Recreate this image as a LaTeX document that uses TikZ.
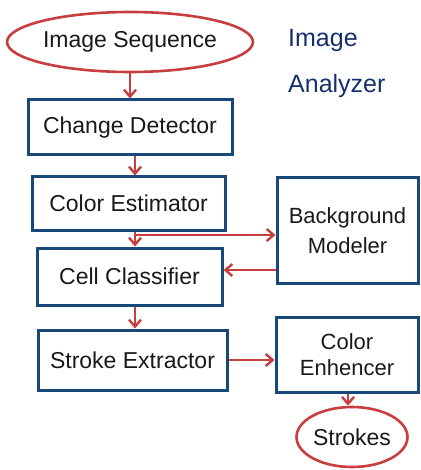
\documentclass[tikz,border=0pt]{standalone}
\usepackage{fontspec}
\setmainfont{Liberation Sans}
\usetikzlibrary{arrows.meta,shapes.geometric}
\definecolor{penred}{RGB}{200,62,62}
\definecolor{penblue}{RGB}{22,72,122}
\definecolor{inkblue}{RGB}{20,48,110}
\definecolor{inkblack}{RGB}{25,25,25}
\tikzset{
  blk/.style={draw=penblue, line width=3pt, rectangle, align=center, text=inkblack,
    font=\fontsize{23}{27}\selectfont, inner sep=1pt},
  rblk/.style={blk, font=\fontsize{22}{26}\selectfont},
  oval/.style={draw=penred, line width=2.6pt, ellipse, text=inkblack,
    font=\fontsize{23}{27}\selectfont, inner sep=0pt},
  arr/.style={draw=penred, line width=2.4pt, -{Straight Barb[length=7pt,width=12pt]}},
  ttl/.style={text=inkblue, font=\fontsize{25}{29}\selectfont, anchor=west, inner sep=0pt}
}
\begin{document}
\begin{tikzpicture}[x=1pt,y=-1pt]
\useasboundingbox (0,0) rectangle (420,470);
\node[oval, minimum width=230pt, minimum height=60pt] (seq) at (130,42) {Image Sequence};
\node[ttl] (t1) at (288,40) {Image};
\node[ttl] (t2) at (288,86) {Analyzer};
\node[blk, minimum width=204pt, minimum height=55pt] (cd) at (130,127.5) {Change Detector};
\node[blk, minimum width=193pt, minimum height=53pt] (ce) at (128.5,203.5) {Color Estimator};
\node[blk, minimum width=185pt, minimum height=57pt] (cc) at (129.5,276.5) {Cell Classifier};
\node[rblk, minimum width=141pt, minimum height=105pt] (bm) at (347.5,230.5) {Background\\[4pt]Modeler};
\node[blk, minimum width=189pt, minimum height=60pt] (se) at (132.5,360) {Stroke Extractor};
\node[rblk, minimum width=142pt, minimum height=75pt] (enh) at (347,354.5) {Color\\[0pt]Enhencer};
\node[oval, minimum width=111pt, minimum height=60pt] (st) at (352,437) {Strokes};
\coordinate (bx) at (135,235);
\coordinate (by) at (0,270);
\coordinate (sx) at (135,0);
\coordinate (ex) at (348,0);
\draw[arr] (seq.south) -- (cd.north);
\draw[arr] (cd.south -| sx) -- (ce.north -| sx);
\draw[arr] (ce.south -| bx) -- (cc.north -| bx);
\draw[arr] (bx) -- (bm.west |- bx);
\draw[arr] (bm.west |- by) -- (cc.east |- by);
\draw[arr] (cc.south -| sx) -- (se.north -| sx);
\draw[arr] (se.east) -- (enh.west |- se.east);
\draw[arr] (enh.south -| ex) -- (st.north -| ex);
\end{tikzpicture}
\end{document}
